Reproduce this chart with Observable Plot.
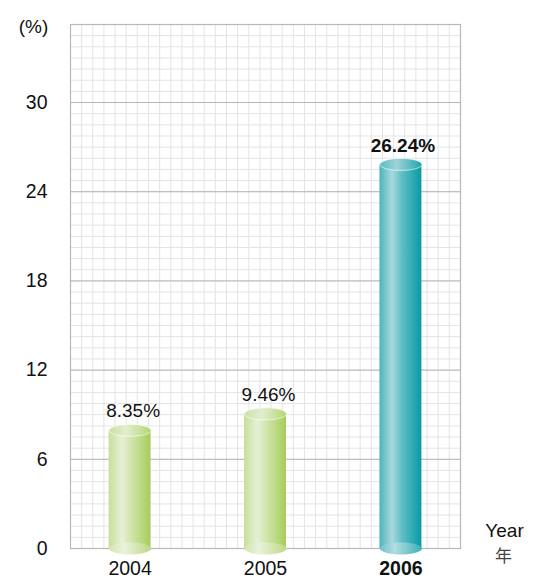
<!DOCTYPE html>
<html>
<head>
<meta charset="utf-8">
<script src="https://cdn.jsdelivr.net/npm/d3@7"></script>
<script src="https://cdn.jsdelivr.net/npm/@observablehq/plot@0.6"></script>
<style>
  html, body { margin: 0; padding: 0; background: #fff; }
  #chart { width: 536px; height: 583px; }
</style>
</head>
<body>
<div id="chart"></div>
<script>
// ---- data ----
const years = [2004, 2005, 2006];
const values = [8.35, 9.46, 26.24];
const valueLabels = ["8.35%", "9.46%", "26.24%"];
const yTicks = [0, 6, 12, 18, 24, 30];
const yTickLabels = ["0", "6", "12", "18", "24", "30"];
const xTickLabels = ["2004", "2005", "2006"];
const highlightYear = 2006;

const data = years.map((y, i) => ({year: y, value: values[i], label: valueLabels[i], tick: xTickLabels[i]}));

// ---- scales / grid ----
const xDomain = [2003.56, 2006.44];
const yDomain = [0, 35.25];
const minorXCount = 35;
const minorX = d3.range(minorXCount + 1).map(i => xDomain[0] + i * (xDomain[1] - xDomain[0]) / minorXCount);
const minorY = d3.range(0, yDomain[1] + 0.001, 0.75);
const halfBar = 0.155;

const RX = 21, RY = 6, K = 0.5523;
const ellipse = {
  draw(ctx) {
    ctx.moveTo(RX, 0);
    ctx.bezierCurveTo(RX, RY * K, RX * K, RY, 0, RY);
    ctx.bezierCurveTo(-RX * K, RY, -RX, RY * K, -RX, 0);
    ctx.bezierCurveTo(-RX, -RY * K, -RX * K, -RY, 0, -RY);
    ctx.bezierCurveTo(RX * K, -RY, RX, -RY * K, RX, 0);
    ctx.closePath();
  }
};

const isHi = d => d.year === highlightYear;
const notHi = d => d.year !== highlightYear;
const font = "'Liberation Sans', Arial, Helvetica, sans-serif";

const chart = Plot.plot({
  width: 536,
  height: 583,
  marginLeft: 70,
  marginRight: 76,
  marginTop: 24,
  marginBottom: 35,
  style: {fontFamily: font, background: "#fff", overflow: "visible"},
  x: {domain: xDomain, axis: null},
  y: {domain: yDomain, axis: null},
  marks: [
    Plot.ruleX(minorX, {x: d => d, stroke: "#e4e4e4", strokeWidth: 1}),
    Plot.ruleY(minorY, {y: d => d, stroke: "#e4e4e4", strokeWidth: 1}),
    Plot.ruleY(yTicks, {y: d => d, stroke: "#b4b4b4", strokeWidth: 1}),
    Plot.frame({stroke: "#b8b8b8", strokeWidth: 1.2}),
    // cylinder bodies
    Plot.rectY(data, {
      x1: d => d.year - halfBar, x2: d => d.year + halfBar,
      y1: 0, y2: "value", insetTop: 6,
      fill: d => isHi(d) ? "url(#tealBody)" : "url(#greenBody)"
    }),
    // bottom caps
    Plot.dot(data, {
      x: "year", y: () => 0, symbol: ellipse, r: 5,
      fill: d => isHi(d) ? "url(#tealBottom)" : "url(#greenBottom)"
    }),
    // top caps
    Plot.dot(data, {
      x: "year", y: "value", dy: 6, symbol: ellipse, r: 5,
      fill: d => isHi(d) ? "url(#tealTop)" : "url(#greenTop)",
      stroke: "#ffffff", strokeOpacity: 0.75, strokeWidth: 0.8
    }),
    // value labels
    Plot.text(data, {
      filter: notHi, x: "year", y: "value", text: "label", dy: -13, dx: 3,
      fontSize: 19, fill: "#111"
    }),
    Plot.text(data, {
      filter: isHi, x: "year", y: "value", text: "label", dy: -13, dx: 2,
      fontSize: 19, fill: "#111", fontWeight: "bold"
    }),
    // y tick labels
    Plot.text(yTicks, {
      y: d => d, text: (d, i) => yTickLabels[i], frameAnchor: "left",
      textAnchor: "end", dx: -23, fontSize: 19.5, fill: "#111"
    }),
    // x tick labels
    Plot.text(data, {
      filter: notHi, x: "year", text: "tick", frameAnchor: "bottom",
      dy: 26, fontSize: 19.5, fill: "#111"
    }),
    Plot.text(data, {
      filter: isHi, x: "year", text: "tick", frameAnchor: "bottom",
      dy: 26, fontSize: 19.5, fill: "#111", fontWeight: "bold"
    }),
    // axis titles
    Plot.text(["(%)"], {frameAnchor: "top-left", textAnchor: "middle", dx: -37, dy: -5, fontSize: 19, fill: "#111"}),
    Plot.text(["Year"], {frameAnchor: "bottom-right", textAnchor: "middle", dx: 44, dy: -12, fontSize: 19, fill: "#111"}),
    Plot.text(["年"], {frameAnchor: "bottom-right", textAnchor: "middle", dx: 43, dy: 13, fontSize: 17, fill: "#444",
      fontFamily: "'Noto Sans CJK SC', 'Noto Sans CJK JP', sans-serif"})
  ]
});

// gradient definitions
const svg = d3.select(chart.tagName.toLowerCase() === "svg" ? chart : chart.querySelector("svg"));
const defs = svg.insert("defs", ":first-child");
function grad(id, stops) {
  const g = defs.append("linearGradient").attr("id", id)
    .attr("x1", "0").attr("y1", "0").attr("x2", "1").attr("y2", "0");
  stops.forEach(([o, c]) => g.append("stop").attr("offset", o).attr("stop-color", c));
}
grad("greenBody", [[0, "#c6df9c"], [0.32, "#e6f0d6"], [0.55, "#cfe4a8"], [1, "#a5cd5a"]]);
grad("greenTop", [[0, "#c9e1a2"], [0.4, "#e3eecf"], [1, "#b4d672"]]);
grad("greenBottom", [[0, "#d2e6b0"], [0.35, "#eaf2dc"], [1, "#bcd985"]]);
grad("tealBody", [[0, "#4db4bd"], [0.3, "#a8d8dd"], [0.55, "#5dbcc4"], [1, "#079ba4"]]);
grad("tealTop", [[0, "#5dbdc5"], [0.4, "#9dd3d8"], [1, "#1ca6ae"]]);
grad("tealBottom", [[0, "#6cc3ca"], [0.35, "#b2dde1"], [1, "#3bb1b8"]]);

document.getElementById("chart").appendChild(chart);
</script>
</body>
</html>
